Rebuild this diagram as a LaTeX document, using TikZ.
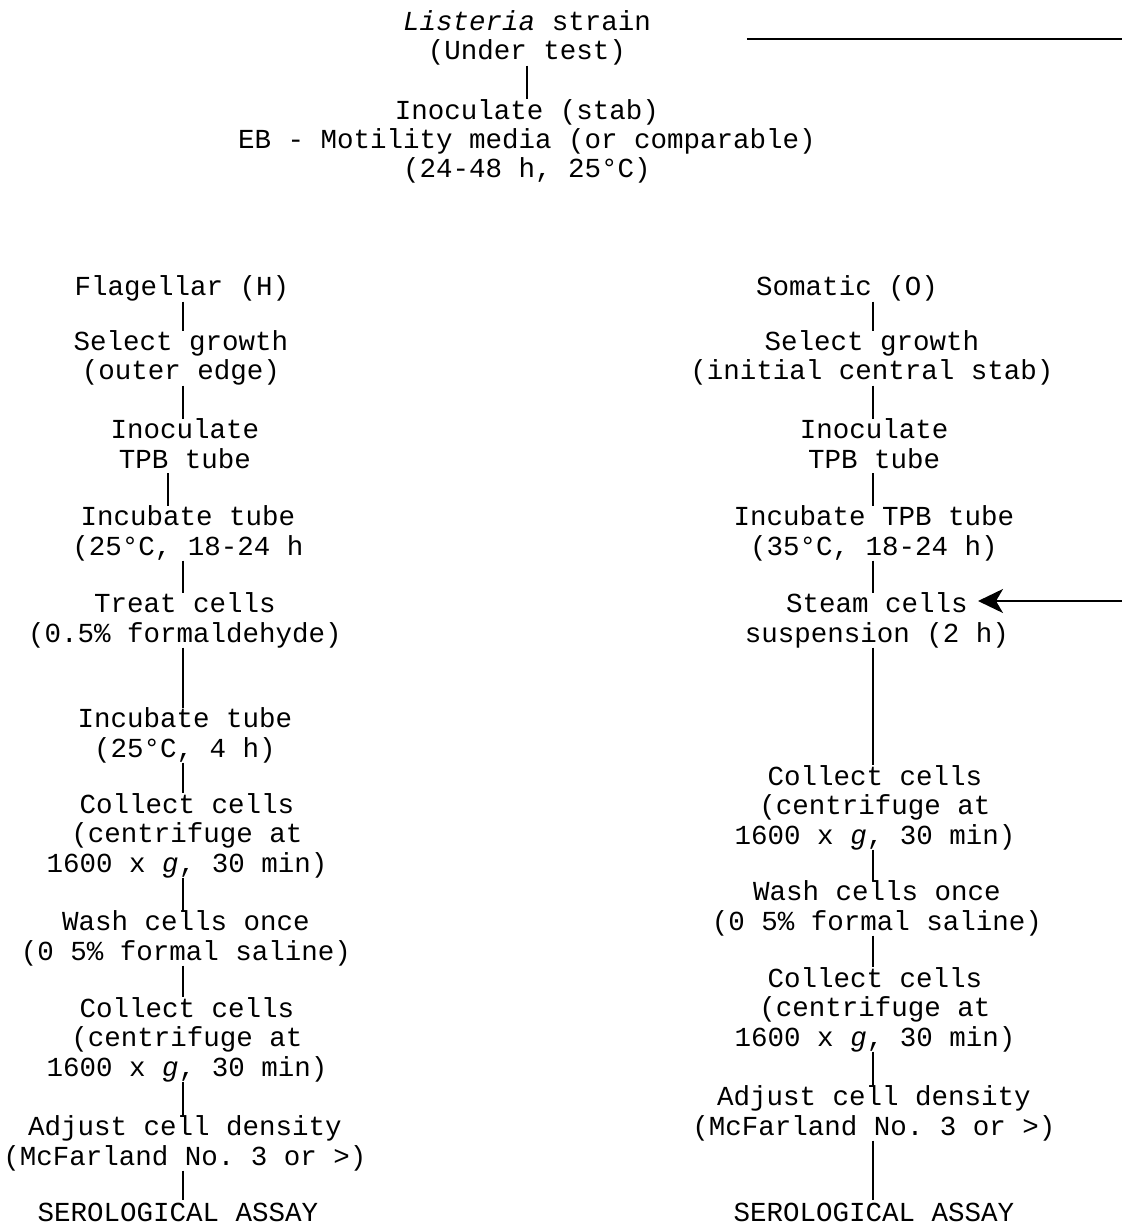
\documentclass[tikz,border=0pt]{standalone}
\usepackage{fontspec}
\setmonofont{Liberation Mono}
\usepackage{tikz}
\usetikzlibrary{arrows.meta}
\newcommand{\stagestrut}{\rule[-2.5pt]{0pt}{13pt}}
\tikzset{
  stage/.style={
    align=center, inner sep=0pt, outer sep=0pt, anchor=base,
    font=\ttfamily\fontsize{13.75pt}{14.7pt}\selectfont,
    execute at begin node=\stagestrut, execute at end node=\stagestrut
  },
  link/.style={line width=1pt, black},
  arrow/.style={-{Stealth[length=12.5pt,width=12pt,inset=3.5pt]}, line width=1pt, black},
}

\begin{document}
\begin{tikzpicture}[x=0.5pt, y=-0.5pt]
  \useasboundingbox[fill=white] (0,0) rectangle (1122,1224);
  \coordinate (colL) at (183,0);
  \coordinate (colR) at (873,0);
  \coordinate (edgeTop) at (1122,39);
  \coordinate (edgeMid) at (1122,601);

  % Nodes (placed at the baseline of their last line)
  \node[stage] (strain) at (527,60) {{\itshape Listeria} strain\\(Under test)};
  \node[stage] (inoc) at (527,178)
    {Inoculate (stab)\\EB - Motility media (or comparable)\\(24-48 h, 25°C)};

  \node[stage] (flag) at (182,296) {Flagellar (H)};
  \node[stage] (selL) at (181,380) {Select growth\\(outer edge)};
  \node[stage] (inocL) at (185,468) {Inoculate\\TPB tube};
  \node[stage] (incL) at (188,555) {Incubate tube\\(25°C, 18-24 h};
  \node[stage] (treatL) at (185,642) {Treat cells\\(0.5\% formaldehyde)};
  \node[stage] (inc2L) at (185,757) {Incubate tube\\(25°C, 4 h)};
  \node[stage] (collL) at (187,872)
    {Collect cells\\(centrifuge at\\1600 x {\itshape g}, 30 min)};
  \node[stage] (washL) at (186,960) {Wash cells once\\(0 5\% formal saline)};
  \node[stage] (coll2L) at (187,1076)
    {Collect cells\\(centrifuge at\\1600 x {\itshape g}, 30 min)};
  \node[stage] (adjL) at (185,1165) {Adjust cell density\\(McFarland No. 3 or >)};
  \node[stage] (seroL) at (178,1221) {SEROLOGICAL ASSAY};

  \node[stage] (som) at (847,296) {Somatic (O)};
  \node[stage] (selR) at (872,380) {Select growth\\(initial central stab)};
  \node[stage] (inocR) at (874,468) {Inoculate\\TPB tube};
  \node[stage] (incR) at (874,555) {Incubate TPB tube\\(35°C, 18-24 h)};
  \node[stage] (steam) at (877,642) {Steam cells\\suspension (2 h)};
  \node[stage] (collR) at (875,844)
    {Collect cells\\(centrifuge at\\1600 x {\itshape g}, 30 min)};
  \node[stage] (washR) at (877,930) {Wash cells once\\(0 5\% formal saline)};
  \node[stage] (coll2R) at (875,1046)
    {Collect cells\\(centrifuge at\\1600 x {\itshape g}, 30 min)};
  \node[stage] (adjR) at (874,1135) {Adjust cell density\\(McFarland No. 3 or >)};
  \node[stage] (seroR) at (874,1221) {SEROLOGICAL ASSAY};

  % Lines
  \draw[link] (strain.south) -- (inoc.north);
  \draw[link] ([xshift=48pt]strain.east |- edgeTop) -- (edgeTop);
  \draw[arrow] (edgeMid) -- ([xshift=50.5pt]steam.north |- edgeMid);

  \draw[link] (flag.south -| colL) -- (selL.north -| colL);
  \draw[link] (selL.south -| colL) -- (inocL.north -| colL);
  \draw[link] ([xshift=-7.5pt]inocL.south -| colL) -- ([xshift=-7.5pt]incL.north -| colL);
  \draw[link] (incL.south -| colL) -- (treatL.north -| colL);
  \draw[link] (treatL.south -| colL) -- (inc2L.north -| colL);
  \draw[link] (inc2L.south -| colL) -- (collL.north -| colL);
  \draw[link] (collL.south -| colL) -- (washL.north -| colL);
  \draw[link] (washL.south -| colL) -- (coll2L.north -| colL);
  \draw[link] (coll2L.south -| colL) -- (adjL.north -| colL);
  \draw[link] (adjL.south -| colL) -- (seroL.north -| colL);

  \draw[link] (som.south -| colR) -- (selR.north -| colR);
  \draw[link] (selR.south -| colR) -- (inocR.north -| colR);
  \draw[link] (inocR.south -| colR) -- (incR.north -| colR);
  \draw[link] (incR.south -| colR) -- (steam.north -| colR);
  \draw[link] (steam.south -| colR) -- (collR.north -| colR);
  \draw[link] (collR.south -| colR) -- (washR.north -| colR);
  \draw[link] (washR.south -| colR) -- (coll2R.north -| colR);
  \draw[link] (coll2R.south -| colR) -- (adjR.north -| colR);
  \draw[link] (adjR.south -| colR) -- (seroR.north -| colR);
\end{tikzpicture}
\end{document}
